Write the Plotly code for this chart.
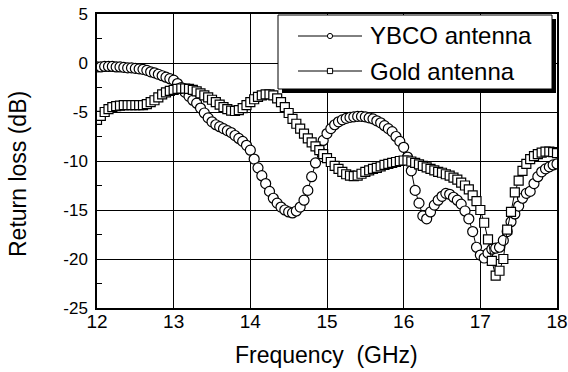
import plotly.graph_objects as go

# ---------------- data ----------------
freq_ghz = [
    12.00, 12.05, 12.10, 12.15, 12.20, 12.25, 12.30, 12.35, 12.40, 12.45,
    12.50, 12.55, 12.60, 12.65, 12.70, 12.75, 12.80, 12.85, 12.90, 12.95,
    13.00, 13.05, 13.10, 13.15, 13.20, 13.25, 13.30, 13.35, 13.40, 13.45,
    13.50, 13.55, 13.60, 13.65, 13.70, 13.75, 13.80, 13.85, 13.90, 13.95,
    14.00, 14.05, 14.10, 14.15, 14.20, 14.25, 14.30, 14.35, 14.40, 14.45,
    14.50, 14.55, 14.60, 14.65, 14.70, 14.75, 14.80, 14.85, 14.90, 14.95,
    15.00, 15.05, 15.10, 15.15, 15.20, 15.25, 15.30, 15.35, 15.40, 15.45,
    15.50, 15.55, 15.60, 15.65, 15.70, 15.75, 15.80, 15.85, 15.90, 15.95,
    16.00, 16.05, 16.10, 16.15, 16.20, 16.25, 16.30, 16.35, 16.40, 16.45,
    16.50, 16.55, 16.60, 16.65, 16.70, 16.75, 16.80, 16.85, 16.90, 16.95,
    17.00, 17.05, 17.10, 17.15, 17.20, 17.25, 17.30, 17.35, 17.40, 17.45,
    17.50, 17.55, 17.60, 17.65, 17.70, 17.75, 17.80, 17.85, 17.90, 17.95,
    18.00,
]

ybco_db = [
    -0.4, -0.4, -0.35, -0.35, -0.35, -0.4, -0.4, -0.45, -0.5, -0.5,
    -0.55, -0.6, -0.65, -0.75, -0.9, -1.0, -1.15, -1.3, -1.45, -1.6,
    -1.75, -2.1, -2.5, -3.0, -3.4, -3.8, -4.1, -4.6, -5.1, -5.6,
    -6.0, -6.3, -6.5, -6.7, -6.9, -7.1, -7.4, -7.7, -8.0, -8.4,
    -8.9, -9.8, -10.7, -11.5, -12.3, -13.1, -13.8, -14.3, -14.7, -15.0,
    -15.2, -15.3, -15.1, -14.7, -14.0, -13.0, -11.6, -10.2, -8.9, -7.9,
    -7.2, -6.7, -6.3, -6.0, -5.8, -5.65, -5.55, -5.5, -5.45, -5.45,
    -5.5, -5.6, -5.7, -5.9, -6.1, -6.4, -6.7, -7.0, -7.5, -8.0,
    -8.6, -9.6, -11.0, -13.0, -14.3, -15.6, -15.9, -15.2, -14.5, -14.0,
    -13.6, -13.3, -13.4, -13.7, -14.0, -14.4, -15.1, -15.9, -17.2, -18.8,
    -19.6, -19.9, -19.4, -19.0, -18.9, -18.8, -18.1, -17.2, -16.2, -15.4,
    -14.6, -13.8, -13.3, -13.1, -12.3, -11.6, -11.1, -10.8, -10.6, -10.4,
    -10.3,
]

gold_db = [
    -5.8, -5.4, -5.0, -4.7, -4.5, -4.4, -4.35, -4.3, -4.3, -4.3,
    -4.3, -4.3, -4.3, -4.2, -4.0, -3.8, -3.5, -3.2, -3.0, -2.85,
    -2.75, -2.65, -2.6, -2.6, -2.65, -2.75, -2.9, -3.1, -3.3, -3.5,
    -3.75, -4.0, -4.25, -4.5, -4.7, -4.85, -4.9, -4.8, -4.6, -4.3,
    -4.0, -3.7, -3.45, -3.3, -3.2, -3.2, -3.3, -3.6, -4.0, -4.5,
    -5.1, -5.7, -6.2, -6.7, -7.2, -7.7, -8.1, -8.5, -8.9, -9.3,
    -9.7, -10.1, -10.5, -10.8, -11.1, -11.35, -11.5, -11.55, -11.5, -11.3,
    -11.1, -10.95, -10.8, -10.7, -10.55, -10.4, -10.3, -10.2, -10.1, -10.0,
    -9.95, -9.95, -10.05, -10.2, -10.35, -10.5, -10.65, -10.8, -10.95, -11.1,
    -11.2, -11.35, -11.5, -11.7, -11.9, -12.2, -12.5, -12.9, -13.5, -14.1,
    -15.0, -16.3, -18.0, -20.2, -21.7, -21.2, -20.0, -17.0, -15.2, -13.2,
    -12.0, -11.0, -10.3, -9.8, -9.5, -9.3, -9.15, -9.05, -9.05, -9.1,
    -9.2,
]

x_ticks = [12, 13, 14, 15, 16, 17, 18]
x_ticklabels = ["12", "13", "14", "15", "16", "17", "18"]
y_ticks = [5, 0, -5, -10, -15, -20, -25]
y_ticklabels = ["5", "0", "-5", "-10", "-15", "-20", "-25"]
y_minor_ticks = [2.5, -2.5, -7.5, -12.5, -17.5, -22.5]

series_names = ["YBCO antenna", "Gold antenna"]

# ---------------- figure ----------------
W, H = 568, 372
ML, MR, MT, MB = 97, 11, 14, 64
PW, PH = W - ML - MR, H - MT - MB


def X(px):
    return (px - ML) / PW


def Y(py):
    return 1 - (py - MT) / PH


FONT = "Arial, Liberation Sans, Helvetica, sans-serif"

fig = go.Figure()
fig.add_trace(go.Scatter(
    x=freq_ghz, y=ybco_db, name=series_names[0], mode="lines+markers",
    line=dict(color="black", width=1),
    marker=dict(symbol="circle", size=10, color="white",
                line=dict(color="black", width=1.2)),
    showlegend=False,
))
fig.add_trace(go.Scatter(
    x=freq_ghz, y=gold_db, name=series_names[1], mode="lines+markers",
    line=dict(color="black", width=1),
    marker=dict(symbol="square", size=9, color="white",
                line=dict(color="black", width=1.2)),
    showlegend=False,
))

# hand-drawn legend box (with drop shadow like the original)
shapes = [
    dict(type="rect", xref="paper", yref="paper", layer="above",
         x0=X(282), x1=X(556), y0=Y(93), y1=Y(19),
         fillcolor="black", line=dict(width=0)),
    dict(type="rect", xref="paper", yref="paper", layer="above",
         x0=X(278), x1=X(552), y0=Y(89), y1=Y(15),
         fillcolor="white", line=dict(color="black", width=1)),
]
legend_rows = [(36, "circle"), (71, "rect")]
for py, kind in legend_rows:
    shapes.append(dict(type="line", xref="paper", yref="paper", layer="above",
                       x0=X(298), x1=X(362), y0=Y(py), y1=Y(py),
                       line=dict(color="black", width=1)))
    r = 2.6
    shapes.append(dict(type=kind, xref="paper", yref="paper", layer="above",
                       x0=X(330 - r), x1=X(330 + r), y0=Y(py + r), y1=Y(py - r),
                       fillcolor="white", line=dict(color="black", width=1)))

annotations = []
for (py, _), name in zip(legend_rows, series_names):
    annotations.append(dict(text=name, xref="paper", yref="paper",
                            x=X(368), y=Y(py), xanchor="left", yanchor="middle",
                            showarrow=False, font=dict(size=24, family=FONT, color="black")))
annotations.append(dict(text="Return loss (dB)", xref="paper", yref="paper",
                        x=X(18), y=Y(174), xanchor="center", yanchor="middle",
                        textangle=-90, showarrow=False,
                        font=dict(size=23, family=FONT, color="black")))
annotations.append(dict(text="Frequency  (GHz)", xref="paper", yref="paper",
                        x=X(326), y=Y(355), xanchor="center", yanchor="middle",
                        showarrow=False,
                        font=dict(size=23, family=FONT, color="black")))

fig.update_layout(
    width=W, height=H,
    margin=dict(l=ML, r=MR, t=MT, b=MB, autoexpand=False),
    paper_bgcolor="white", plot_bgcolor="white",
    font=dict(family=FONT, color="black"),
    showlegend=False,
    shapes=shapes,
    annotations=annotations,
    xaxis=dict(
        range=[12, 18], tickmode="array", tickvals=x_ticks, ticktext=x_ticklabels,
        showgrid=True, gridcolor="black", gridwidth=1,
        showline=True, linecolor="black", linewidth=1.5, mirror=True,
        zeroline=False, ticks="", tickfont=dict(size=19), automargin=False,
        ticklabelstandoff=-5,
    ),
    yaxis=dict(
        range=[-25, 5], tickmode="array", tickvals=y_ticks, ticktext=y_ticklabels,
        showgrid=True, gridcolor="black", gridwidth=1,
        showline=True, linecolor="black", linewidth=1.5, mirror=True,
        zeroline=False, ticks="", tickfont=dict(size=17), ticklabelstandoff=4,
        automargin=False,
        minor=dict(tickmode="array", tickvals=y_minor_ticks, ticks="inside",
                   ticklen=5, tickcolor="black", tickwidth=1, showgrid=False),
    ),
)

fig.write_html(
    "out.html",
    config={"displayModeBar": False},
    post_script="document.body.style.margin='0px';document.body.style.overflow='hidden';",
)
